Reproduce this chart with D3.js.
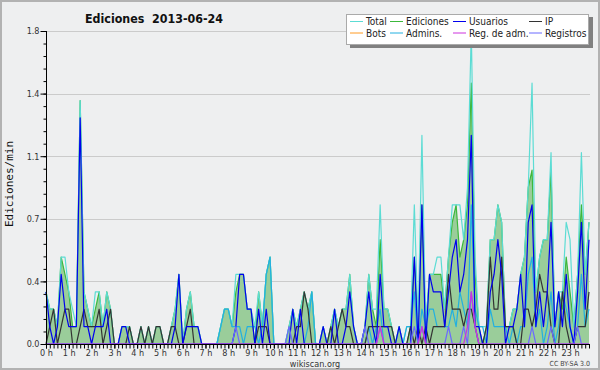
<!DOCTYPE html>
<html>
<head>
<meta charset="utf-8">
<script src="https://cdn.jsdelivr.net/npm/d3@7"></script>
<style>
body { margin: 0; background: #fff; }
svg { display: block; }
</style>
</head>
<body>
<div id="chart"></div>
<script>

// edits per minute, one point every 10 minutes (6 per hour, 144 for the day)
var total = [
    0.3,0.2,0.2,0.1,0.5,0.5, 0.3,0.2,0.1,1.4,0.3,0.2, 0.1,0.3,0.3,0.1,0.3,0.2, 0,0,0.1,0.1,0.1,0,
    0,0.1,0,0.1,0,0.1, 0.1,0,0,0.1,0.2,0.4, 0,0.2,0.3,0.1,0.1,0, 0,0,0,0,0.1,0.2,
    0.2,0.1,0.4,0.4,0.4,0.2, 0.2,0.1,0.3,0.1,0.4,0.5, 0,0,0,0,0.1,0.2, 0.1,0.2,0.3,0.2,0.3,0,
    0,0.1,0,0.1,0.2,0.1, 0.2,0.2,0.4,0.1,0,0, 0.1,0.4,0.2,0.2,0.8,0.2, 0.2,0.1,0,0.1,0,0.1,
    0.1,0.8,0.1,1.2,0.1,0.4, 0.4,0.5,0.5,0.2,0.5,0.8, 0.8,0.8,0.6,0.9,1.8,0.5, 0.1,0.1,0.1,0.6,0.6,0.8,
    0.7,0.1,0.1,0.2,0.2,0.4, 0.5,0.9,1.5,0.3,0.5,0.6, 0.6,1.1,0.1,0.3,0.3,0.7, 0.6,0.1,0.4,1.1,0.4,0.7
];
var ediciones = [
    0.3,0.2,0.2,0.1,0.5,0.4, 0.3,0.1,0.1,1.4,0.3,0.2, 0.1,0.2,0.3,0.1,0.3,0.2, 0,0,0.1,0.1,0.1,0,
    0,0.1,0,0.1,0,0.1, 0.1,0,0,0.1,0.2,0.4, 0,0.2,0.3,0.1,0.1,0, 0,0,0,0,0.1,0.2,
    0.2,0.1,0.3,0.4,0.4,0.2, 0.2,0,0.3,0.1,0.4,0.5, 0,0,0,0,0.1,0.2, 0.1,0.2,0.3,0.2,0.3,0,
    0,0.1,0,0.1,0.2,0.1, 0.2,0.2,0.4,0.1,0,0, 0.1,0.4,0.2,0.1,0.6,0.2, 0.2,0.1,0,0.1,0,0,
    0.1,0.5,0.1,0.8,0.1,0.4, 0.4,0.4,0.4,0.2,0.5,0.7, 0.8,0.5,0.6,0.8,1.5,0.4, 0.1,0,0.1,0.6,0.6,0.8,
    0.7,0.1,0.1,0.2,0.2,0.4, 0.5,0.9,1.0,0.3,0.5,0.6, 0.6,1.0,0.1,0.3,0.2,0.5, 0.3,0.1,0.4,0.8,0.4,0.7
];
var usuarios = [
    0.3,0.1,0,0.1,0.4,0.2, 0.1,0.1,0.1,1.3,0.1,0.1, 0,0.1,0.1,0.1,0.2,0, 0,0,0.1,0.1,0,0,
    0,0,0,0,0,0, 0,0,0,0,0.1,0.4, 0,0.1,0.1,0.1,0.1,0, 0,0,0,0,0,0,
    0,0,0.1,0.4,0.4,0.2, 0.2,0,0.2,0,0.2,0, 0,0,0,0,0,0.2, 0,0.2,0,0,0,0,
    0,0.1,0,0,0.2,0, 0,0.1,0.3,0.1,0,0, 0.1,0.3,0.1,0,0.4,0.1, 0.1,0,0,0.1,0,0,
    0,0.5,0,0.8,0,0.4, 0.3,0.3,0.3,0.1,0.3,0.5, 0.6,0.3,0.4,0.6,1.2,0.1, 0.1,0,0,0.3,0.4,0.6,
    0.4,0,0.1,0.1,0.2,0.4, 0.1,0.7,0.8,0.1,0.3,0.1, 0.3,0.7,0.1,0.3,0.1,0.4, 0.1,0,0.3,0.7,0.2,0.6
];
var ip = [
    0,0.1,0.2,0,0.1,0.2, 0.2,0,0,0.1,0.2,0.1, 0.1,0.1,0.2,0,0.1,0.2, 0,0,0,0,0.1,0,
    0,0.1,0,0.1,0,0.1, 0.1,0,0,0.1,0.1,0, 0,0.1,0.2,0,0,0, 0,0,0,0,0,0,
    0,0,0,0,0,0, 0,0,0.1,0.1,0.1,0, 0,0,0,0,0,0, 0.1,0.1,0.3,0.2,0,0,
    0,0,0,0.1,0,0.1, 0.2,0.1,0.1,0,0,0, 0,0.1,0.1,0.1,0.1,0.1, 0.1,0.1,0,0,0,0,
    0.1,0,0.1,0,0.1,0, 0.1,0.1,0.1,0.1,0.4,0.2, 0.2,0.2,0.1,0.2,0.2,0.1, 0,0,0.1,0.5,0.2,0.2,
    0.5,0.1,0.1,0.1,0,0, 0.2,0.2,0.1,0.2,0.4,0.3, 0.3,0.1,0,0,0.3,0.1, 0,0,0.1,0.1,0.1,0.3
];
var admins = [
    0,0,0,0,0,0, 0,0,0,0,0,0, 0,0,0,0,0,0, 0,0,0,0,0,0,
    0,0,0,0,0,0, 0,0,0,0,0,0, 0,0,0,0,0,0, 0,0,0,0,0.1,0.2,
    0.2,0.1,0.1,0.1,0,0.1, 0.1,0.1,0,0.1,0.4,0.5, 0,0,0,0,0,0, 0,0,0,0.1,0.3,0,
    0,0,0,0,0,0, 0,0,0,0,0,0, 0,0.1,0,0.1,0.2,0, 0,0,0,0,0,0.1,
    0.1,0.3,0,0.2,0.1,0.2, 0.2,0.1,0.1,0.1,0.1,0.2, 0.1,0.3,0.2,0.1,0.8,0.2, 0.1,0.1,0,0.2,0.1,0.1,
    0.1,0.1,0,0.1,0,0.1, 0.1,0.4,0.5,0.1,0.2,0, 0.1,0.3,0,0.1,0.3,0.2, 0.1,0,0.1,0.4,0.1,0.2
];
var regAdm = [
    0,0,0,0,0,0, 0,0,0,0,0,0, 0,0,0,0,0,0, 0,0,0,0,0,0,
    0,0,0,0,0,0, 0,0,0,0,0,0, 0,0,0,0,0,0, 0,0,0,0,0,0,
    0,0,0,0,0,0, 0,0,0,0,0,0, 0,0,0,0,0,0, 0,0,0,0,0,0,
    0,0,0,0,0,0, 0,0,0,0,0,0, 0,0,0,0,0.1,0, 0,0,0,0,0,0,
    0,0,0,0.1,0,0, 0,0,0,0,0,0, 0,0,0,0.1,0.3,0.1, 0,0,0,0,0,0,
    0,0,0,0,0,0, 0,0,0,0,0,0, 0,0,0,0,0,0, 0,0,0,0,0,0
];
var registros = [
    0,0,0,0,0,0, 0,0,0,0,0,0, 0,0,0,0,0,0, 0,0,0,0,0,0,
    0,0,0,0,0,0, 0,0,0,0,0,0, 0,0,0,0,0,0, 0,0,0,0,0,0,
    0,0,0.1,0,0,0, 0,0,0,0,0,0, 0,0,0,0,0.1,0, 0,0,0,0,0,0,
    0,0,0,0,0,0, 0,0,0,0,0,0, 0.1,0,0,0,0.1,0, 0,0,0,0,0,0,
    0,0.1,0,0.1,0,0, 0,0,0,0,0.1,0, 0,0,0.1,0,0.3,0.1, 0,0,0,0,0,0,
    0,0,0,0,0,0, 0,0,0.1,0,0,0, 0,0.1,0,0,0,0, 0,0,0.1,0,0,0
];
// no bot edits that day: legend entry only
var bots = [];

var hourLabels = ["0 h","1 h","2 h","3 h","4 h","5 h","6 h","7 h","8 h","9 h","10 h","11 h",
                  "12 h","13 h","14 h","15 h","16 h","17 h","18 h","19 h","20 h","21 h","22 h","23 h"];
var yTickValues = [0, 0.36, 0.72, 1.08, 1.44, 1.8];
var yTickLabels = ["0.0","0.4","0.7","1.1","1.4","1.8"];

var legendNames = ["Total","Ediciones","Usuarios","IP","Bots","Admins.","Reg. de adm.","Registros"];
var legendColors = ["#5cdcd4","#3cb83c","#0000ee","#333333","#ff9a22","#22b0e0","#cc33dd","#6a6aff"];

//Width and height
var w = 600;
var h = 370;
var FONT = "'DejaVu Sans Condensed', 'DejaVu Sans', sans-serif";

var svg = d3.select("#chart")
    .append("svg")
    .attr("width", w)
    .attr("height", h);

//background and frame
svg.append("rect")
    .attr("x", 1).attr("y", 1)
    .attr("width", w - 2).attr("height", h - 2)
    .style("fill", "#eeeff0")
    .style("stroke", "#b2b2b2")
    .style("stroke-width", 2);

var x = d3.scaleLinear().domain([0, 143]).range([46, 589]);
var y = d3.scaleLinear().domain([0, 1.8]).range([344, 31]);

//horizontal grid
svg.append("g")
    .selectAll("line")
    .data(yTickValues.slice(1))
    .enter().append("line")
    .attr("x1", 46).attr("x2", 590)
    .attr("y1", function (d) { return Math.round(y(d)) + 0.5; })
    .attr("y2", function (d) { return Math.round(y(d)) + 0.5; })
    .style("stroke", "#cbcbcb")
    .style("stroke-width", 1);

//Ediciones area
var area = d3.area()
    .x(function (d, i) { return x(i); })
    .y0(y(0))
    .y1(function (d) { return y(d); });

svg.append("path")
    .datum(ediciones)
    .attr("d", area)
    .style("fill", "#9acd9a")
    .style("stroke", "none");

var line = d3.line()
    .x(function (d, i) { return x(i); })
    .y(function (d) { return y(d); });

var series = [
    {data: ediciones, color: legendColors[1]},
    {data: total, color: legendColors[0]},
    {data: admins, color: legendColors[5]},
    {data: ip, color: legendColors[3]},
    {data: usuarios, color: legendColors[2]},
    {data: registros, color: legendColors[7]},
    {data: regAdm, color: legendColors[6]}
];

series.forEach(function (s) {
    svg.append("path")
        .datum(s.data)
        .attr("d", line)
        .style("fill", "none")
        .style("stroke", s.color)
        .style("stroke-width", 1.2)
        .style("stroke-linejoin", "round");
});

//y axis: minor ticks
svg.append("g")
    .attr("transform", "translate(46.5,0)")
    .call(d3.axisLeft(y).tickValues(d3.range(0, 26).map(function (k) { return k * 0.072; }))
        .tickSize(3).tickFormat(""))
    .call(function (g) { g.select(".domain").remove(); });

//y axis: major ticks and labels
var yAxis = svg.append("g")
    .attr("transform", "translate(46.5,0)")
    .call(d3.axisLeft(y).tickValues(yTickValues).tickSize(6).tickPadding(1)
        .tickFormat(function (d, i) { return yTickLabels[i]; }));
yAxis.select(".domain").attr("d", "M0," + y(1.8) + "V" + y(0)).style("stroke", "#000");
yAxis.selectAll("text")
    .style("font-family", FONT)
    .style("font-size", "9px")
    .style("fill", "#333");

//x axis: one tick every 10 minutes
var xAxis = svg.append("g")
    .attr("transform", "translate(0,344.5)")
    .call(d3.axisBottom(x).tickValues(d3.range(0, 144)).tickSize(4).tickFormat(""));
xAxis.select(".domain").attr("d", "M46,0H590").style("stroke", "#000");

//hour labels
svg.append("g")
    .attr("transform", "translate(0,344.5)")
    .call(d3.axisBottom(x).tickValues(d3.range(0, 144, 6)).tickSize(4).tickPadding(1)
        .tickFormat(function (d, i) { return hourLabels[i]; }))
    .call(function (g) { g.select(".domain").remove(); })
    .selectAll("text")
    .style("font-family", FONT)
    .style("font-size", "9px")
    .style("fill", "#333");

//title
svg.append("text")
    .text("Ediciones\u00a0\u00a02013-06-24")
    .attr("x", 85)
    .attr("y", 23)
    .attr("textLength", 138)
    .attr("lengthAdjust", "spacingAndGlyphs")
    .style("font-family", "'DejaVu Sans', sans-serif")
    .style("font-weight", "bold")
    .style("font-size", "13px")
    .style("fill", "#111");

//y axis title
svg.append("text")
    .text("Ediciones/min")
    .attr("transform", "translate(13,184) rotate(-90)")
    .style("font-family", "'DejaVu Sans Mono', monospace")
    .style("font-size", "11px")
    .style("text-anchor", "middle")
    .style("fill", "#111");

//footer
svg.append("text")
    .text("wikiscan.org")
    .attr("x", 315).attr("y", 367)
    .style("font-family", FONT)
    .style("font-size", "9px")
    .style("text-anchor", "middle")
    .style("fill", "#333");

svg.append("text")
    .text("CC BY-SA 3.0")
    .attr("x", 590).attr("y", 366)
    .style("font-family", FONT)
    .style("font-size", "7px")
    .style("text-anchor", "end")
    .style("fill", "#444");

//legend
var legend = svg.append("g");
legend.append("rect")
    .attr("x", 350).attr("y", 17)
    .attr("width", 243).attr("height", 31)
    .style("fill", "#808080");
legend.append("rect")
    .attr("x", 346.5).attr("y", 14.5)
    .attr("width", 242).attr("height", 30)
    .style("fill", "#fff")
    .style("stroke", "#aaa");

var colX = [350, 390, 453, 529];
var rowY = [25, 36.5];
legendNames.forEach(function (name, k) {
    var cx = colX[k % 4];
    var cy = rowY[Math.floor(k / 4)];
    legend.append("line")
        .attr("x1", cx).attr("x2", cx + 13)
        .attr("y1", cy - 3.5).attr("y2", cy - 3.5)
        .style("stroke", legendColors[k])
        .style("stroke-width", 1);
    legend.append("text")
        .text(name)
        .attr("x", cx + 16)
        .attr("y", cy)
        .style("font-family", FONT)
        .style("font-size", "10px")
        .style("fill", "#222");
});
</script>
</body>
</html>
